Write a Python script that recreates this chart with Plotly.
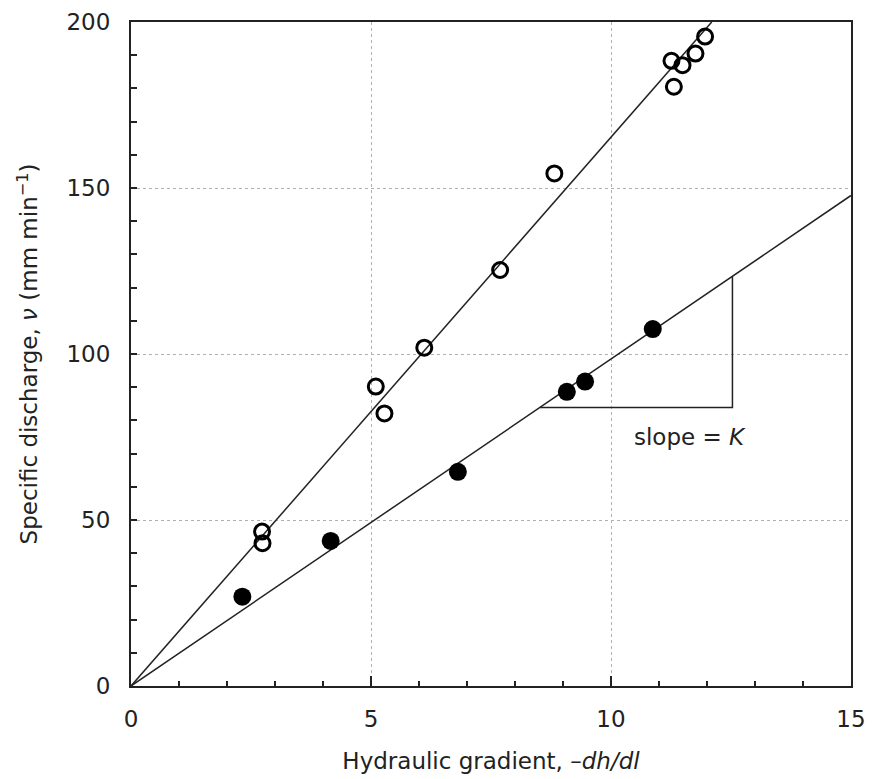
import plotly.graph_objects as go

# Open circles
open_x = [2.73, 2.74, 5.10, 5.28, 6.11, 7.69, 8.82, 11.26, 11.31, 11.49, 11.76, 11.96]
open_y = [46.5, 43.0, 90.2, 82.1, 101.9, 125.3, 154.4, 188.3, 180.5, 187.0, 190.5, 195.6]
# Filled circles
filled_x = [2.32, 4.16, 6.81, 9.08, 9.46, 10.87]
filled_y = [26.9, 43.7, 64.5, 88.6, 91.7, 107.5]
# Fitted line slopes
open_slope = 16.53
filled_slope = 9.85
# Slope triangle x extent
tri_x0, tri_x1 = 8.52, 12.53

FONT = "DejaVu Sans"
FS = 23

fig = go.Figure()

fig.add_trace(go.Scatter(x=[0, 200 / open_slope], y=[0, 200], mode="lines",
                         line=dict(color="#222", width=1.5), showlegend=False, hoverinfo="skip"))
fig.add_trace(go.Scatter(x=[0, 15], y=[0, 15 * filled_slope], mode="lines",
                         line=dict(color="#222", width=1.5), showlegend=False, hoverinfo="skip"))
fig.add_trace(go.Scatter(x=[tri_x0, tri_x1, tri_x1],
                         y=[tri_x0 * filled_slope, tri_x0 * filled_slope, tri_x1 * filled_slope],
                         mode="lines", line=dict(color="#222", width=1.5),
                         showlegend=False, hoverinfo="skip"))
fig.add_trace(go.Scatter(x=open_x, y=open_y, mode="markers",
                         marker=dict(symbol="circle-open", size=15, color="black",
                                     line=dict(width=3, color="black")),
                         showlegend=False))
fig.add_trace(go.Scatter(x=filled_x, y=filled_y, mode="markers",
                         marker=dict(symbol="circle", size=18, color="black"),
                         showlegend=False))

fig.add_annotation(x=11.65, y=75, text="slope = <i>K</i>", showarrow=False,
                   font=dict(family=FONT, size=FS, color="#222"))

fig.update_layout(
    width=873, height=779,
    margin=dict(l=131, r=22, t=22, b=93),
    plot_bgcolor="white", paper_bgcolor="white",
    font=dict(family=FONT, size=FS, color="#222"),
    xaxis=dict(
        range=[0, 15], tickvals=[0, 5, 10, 15], showgrid=True,
        gridcolor="#b0b0b0", griddash="dot", gridwidth=1,
        showline=True, linecolor="#222", linewidth=2, mirror=True,
        ticks="inside", ticklen=10, tickwidth=1.5, tickcolor="#222",
        minor=dict(dtick=1, ticks="inside", ticklen=5, tickwidth=1.5, tickcolor="#222", showgrid=False),
        zeroline=False, ticklabelstandoff=11, automargin=False,
        title=dict(text="Hydraulic gradient, <i>–dh/dl</i>", font=dict(size=FS), standoff=22),
        tickfont=dict(size=FS),
    ),
    yaxis=dict(
        range=[0, 200], tickvals=[0, 50, 100, 150, 200], showgrid=True,
        gridcolor="#b0b0b0", griddash="dot", gridwidth=1,
        showline=True, linecolor="#222", linewidth=2, mirror=True,
        ticks="inside", ticklen=6, tickwidth=1.5, tickcolor="#222",
        minor=dict(dtick=10, ticks="inside", ticklen=6, tickwidth=1.5, tickcolor="#222", showgrid=False),
        zeroline=False, ticklabelstandoff=14, automargin=False,
        title=dict(text="Specific discharge, <i>ν</i> (mm min<sup>−1</sup>)", font=dict(size=FS), standoff=22),
        tickfont=dict(size=FS),
    ),
)

fig.write_html("out.html")
